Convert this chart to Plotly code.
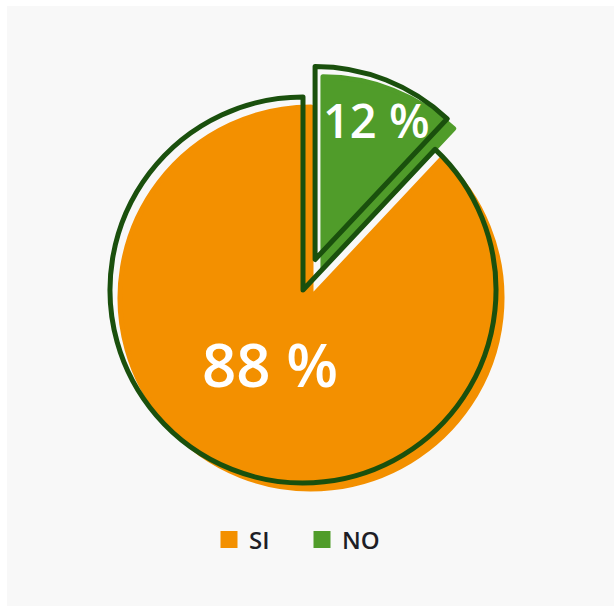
import plotly.graph_objects as go

labels = ["SI", "NO"]
values = [88, 12]
text_labels = ["88 %", "12 %"]
colors = ["#F39000", "#509C2A"]
pulls = [0, 0.17]

W, H = 614, 606
ML, MT = 7, 6
PW, PH = W - ML, H - MT

def dom(cx, cy, r, pull):
    half = r * (1 + pull)
    x0 = (cx - half - ML) / PW
    x1 = (cx + half - ML) / PW
    y1 = 1 - (cy - half - MT) / PH
    y0 = 1 - (cy + half - MT) / PH
    return dict(x=[x0, x1], y=[y0, y1])

def px2paper(x, y):
    return (x - ML) / PW, 1 - (y - MT) / PH

fill_dom = dom(311, 298, 191, max(pulls))
line_dom = dom(303, 290, 193, max(pulls))
ROT = 360 * values[1] / sum(values)

fig = go.Figure()
fig.add_trace(go.Pie(
    labels=labels, values=values,
    textinfo="none",
    marker=dict(colors=colors, line=dict(color=colors, width=5)),
    pull=pulls, sort=False, direction="clockwise", rotation=ROT,
    domain=fill_dom, hoverinfo="skip", showlegend=True,
))
fig.add_trace(go.Pie(
    labels=labels, values=values,
    textinfo="none",
    marker=dict(colors=["rgba(0,0,0,0)", "rgba(0,0,0,0)"],
                line=dict(color="#1A500D", width=5)),
    pull=pulls, sort=False, direction="clockwise", rotation=ROT,
    domain=line_dom, hoverinfo="skip", showlegend=False,
))

label_pos = [(270, 364), (376, 120)]
label_sizes = [60, 47]
annotations = []
for t, (x, y), s in zip(text_labels, label_pos, label_sizes):
    ax, ay = px2paper(x, y)
    annotations.append(dict(text=t, x=ax, y=ay, xref="paper", yref="paper",
                            xanchor="center", yanchor="middle", showarrow=False,
                            font=dict(family="Open Sans", size=s, color="white", weight=600)))

fig.update_layout(
    width=W, height=H,
    margin=dict(l=ML, t=MT, r=0, b=0),
    paper_bgcolor="white",
    shapes=[dict(type="rect", xref="paper", yref="paper", x0=0, x1=1, y0=0, y1=1,
                 fillcolor="#F8F8F8", line=dict(width=0), layer="below")],
    annotations=annotations,
    legend=dict(orientation="h", x=(302 - ML) / PW, xanchor="center",
                y=1 - (540 - MT) / PH, yanchor="middle", entrywidth=48,
                font=dict(family="Open Sans", size=24, color="#1E1E26", weight=600),
                bgcolor="rgba(0,0,0,0)", itemclick=False, itemdoubleclick=False),
    font=dict(family="Open Sans"),
)

fig.write_html("out.html", config={"displayModeBar": False},
               post_script="document.body.style.margin='0';document.body.style.overflow='hidden';")
